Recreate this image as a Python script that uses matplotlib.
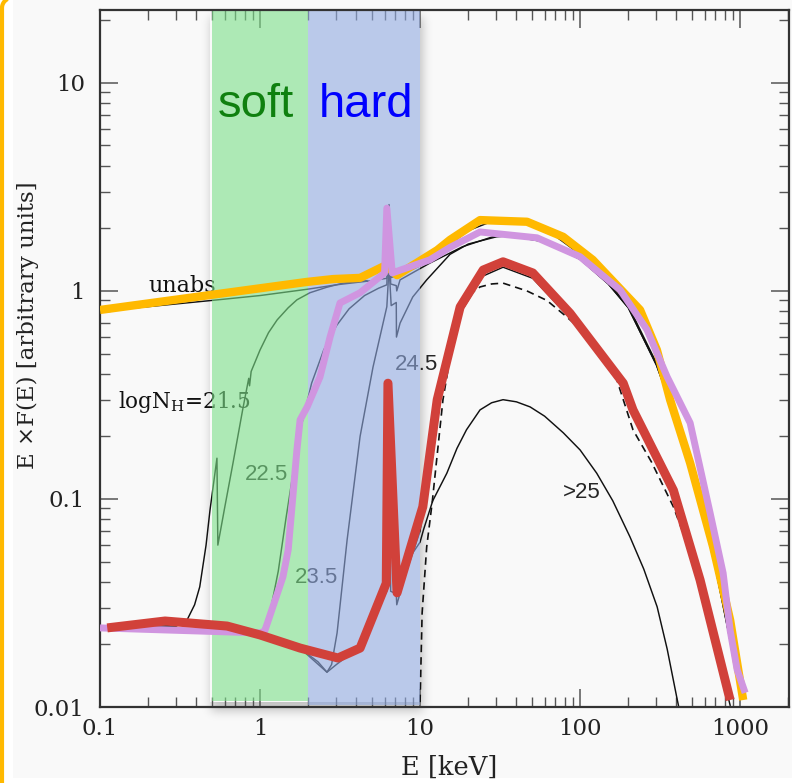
import numpy as np
import matplotlib.pyplot as plt
from matplotlib.lines import Line2D
from matplotlib.patches import Rectangle
from matplotlib.ticker import LogLocator, NullFormatter

plt.rcParams['font.family'] = ['DejaVu Serif']
plt.rcParams['mathtext.fontset'] = 'dejavuserif'

# --- spectra (E in keV, E*F(E) arbitrary units) ---
# thin black model curves
e_unabs = [0.1, 0.2, 0.5, 1, 2, 3, 5, 6.2, 6.4, 6.6, 8, 10, 15, 20, 30, 40, 60, 100, 150, 200, 300, 400, 500, 700, 900, 1000]
f_unabs = [0.80, 0.84, 0.90, 0.95, 1.02, 1.07, 1.12, 1.15, 1.35, 1.16, 1.22, 1.32, 1.65, 1.95, 2.2, 2.2, 2.0, 1.5, 1.1, 0.85, 0.45, 0.25, 0.14, 0.05, 0.02, 0.012]

e_215 = [0.1, 0.2, 0.3, 0.35, 0.39, 0.42, 0.46, 0.487, 0.538, 0.545, 0.6, 0.678, 0.78, 0.85, 0.86, 0.88, 1.0, 1.13, 1.28, 1.5, 1.7, 2.05, 2.6, 3.3, 4.66]
f_215 = [0.024, 0.0245, 0.0245, 0.0262, 0.031, 0.0378, 0.060, 0.0886, 0.157, 0.060, 0.09, 0.149, 0.27, 0.38, 0.35, 0.41, 0.52, 0.63, 0.726, 0.83, 0.906, 0.98, 1.04, 1.09, 1.12]

e_225 = [0.1, 0.25, 0.6, 1.0, 1.15, 1.3, 1.45, 1.6, 1.8, 2.1, 2.5, 3.0, 3.6, 4.5, 5.5, 6.2, 6.4, 6.55, 7.1, 7.15, 7.5, 11.5, 18.4, 28.4, 34.8, 60, 100, 150, 200, 300, 400, 500, 700, 900]
f_225 = [0.024, 0.025, 0.024, 0.022, 0.028, 0.045, 0.08, 0.13, 0.22, 0.36, 0.52, 0.68, 0.82, 0.95, 1.03, 1.07, 2.6, 1.08, 1.06, 1.0, 1.13, 1.36, 1.63, 1.82, 1.85, 1.72, 1.42, 1.08, 0.83, 0.44, 0.24, 0.135, 0.047, 0.018]

e_235 = [0.1, 0.25, 0.6, 1.0, 1.8, 2.3, 2.62, 2.8, 3.03, 3.5, 4.22, 5.08, 6.2, 6.4, 6.6, 7.1, 7.12, 7.5, 9.0, 11.0, 15.4, 20, 30, 40, 60, 100, 150, 200, 300, 400, 500, 700, 900]
f_235 = [0.024, 0.025, 0.024, 0.022, 0.019, 0.0165, 0.0147, 0.016, 0.0227, 0.0635, 0.20, 0.43, 0.84, 1.3, 0.85, 0.88, 0.60, 0.70, 0.935, 1.13, 1.50, 1.68, 1.82, 1.85, 1.72, 1.42, 1.08, 0.83, 0.44, 0.24, 0.135, 0.047, 0.018]

e_245 = [0.1, 0.25, 0.6, 1.0, 1.8, 2.62, 3.0, 3.5, 4.2, 5.0, 6.2, 6.4, 6.55, 7.1, 7.15, 8, 10, 12.8, 17.8, 24.8, 33, 50.6, 86.6, 186, 214, 383, 562, 866]
f_245 = [0.024, 0.025, 0.024, 0.022, 0.019, 0.0147, 0.016, 0.0175, 0.02, 0.026, 0.036, 0.37, 0.036, 0.035, 0.031, 0.042, 0.07, 0.27, 0.78, 1.18, 1.30, 1.15, 0.74, 0.34, 0.255, 0.104, 0.038, 0.0102]

e_dash = [9.9, 10, 10.3, 11.0, 11.9, 13.9, 17.0, 19.5, 23.7, 28, 33, 46.5, 62, 82.5, 120, 160, 214, 280, 383, 470, 560, 700, 860]
f_dash = [0.008, 0.0105, 0.0283, 0.0588, 0.0958, 0.30, 0.75, 0.935, 1.045, 1.08, 1.09, 1.0, 0.90, 0.75, 0.58, 0.43, 0.215, 0.15, 0.0916, 0.06, 0.037, 0.021, 0.0105]

e_25 = [9, 10, 10.5, 12, 14.7, 17, 19.5, 23.7, 28, 33, 40, 48.7, 60, 78.5, 100, 127, 160, 205, 250, 303, 350, 405, 440]
f_25 = [0.055, 0.062, 0.071, 0.098, 0.133, 0.175, 0.215, 0.268, 0.29, 0.30, 0.293, 0.277, 0.25, 0.208, 0.172, 0.133, 0.098, 0.0657, 0.046, 0.0303, 0.019, 0.0108, 0.008]

# thick highlighted curves
e_orange = [0.1, 1.97, 2.86, 4.22, 6.13, 7.18, 12.8, 15.4, 23.7, 46.6, 78.3, 120, 237, 302, 365, 487, 678, 866, 1045]
f_orange = [0.81, 1.105, 1.14, 1.155, 1.33, 1.19, 1.57, 1.76, 2.19, 2.15, 1.82, 1.41, 0.81, 0.52, 0.30, 0.149, 0.0588, 0.0262, 0.0108]

e_purple = [0.1, 1.0, 1.07, 1.39, 1.50, 1.70, 1.78, 1.97, 2.37, 2.74, 3.16, 4.22, 6.0, 6.2, 6.7, 11.5, 15.4, 23.7, 53.8, 100, 178, 262, 350, 487, 649, 783, 866, 958, 1075]
f_purple = [0.024, 0.0227, 0.0232, 0.0422, 0.057, 0.172, 0.24, 0.277, 0.386, 0.601, 0.875, 0.98, 1.22, 2.5, 1.22, 1.41, 1.62, 1.92, 1.80, 1.46, 1.01, 0.65, 0.386, 0.232, 0.0857, 0.044, 0.0234, 0.0151, 0.0117]

e_red = [0.111, 0.255, 0.622, 1.0, 1.78, 3.07, 4.22, 6.15, 6.3, 7.18, 10.4, 12.8, 17.8, 24.8, 33, 50.6, 86.6, 186, 214, 383, 562, 866]
f_red = [0.024, 0.0259, 0.0245, 0.0222, 0.0192, 0.0172, 0.0192, 0.0394, 0.36, 0.0354, 0.0917, 0.30, 0.837, 1.26, 1.38, 1.22, 0.78, 0.36, 0.268, 0.110, 0.0408, 0.0108]

# energy bands
soft_band = (0.5, 2)
hard_band = (2, 10)

# curve labels: (text, E, F)
curve_labels = [('22.5', 0.806, 0.123), ('23.5', 1.65, 0.0394), ('24.5', 6.98, 0.417), ('>25', 78.3, 0.101)]

W, H = 792, 783
fig = plt.figure(figsize=(W / 100, H / 100), dpi=100, facecolor='white')

# slide background
fig.add_artist(Rectangle((13 / W, 5 / H), 1, 1, transform=fig.transFigure,
                         facecolor='#f9f9f9', edgecolor='none', zorder=-3))

# orange frame on the left edge with a rounded top corner (pixel coords from the top)
R = 10.0
t = np.linspace(0, np.pi / 2, 20)
fx = np.concatenate([[2.0, 2.0], 2.0 + R - R * np.cos(t), [60.0]])
fy = np.concatenate([[H + 5, -2.0 + R], -2.0 + R - R * np.sin(t), [-2.0]])
fig.add_artist(Line2D(fx / W, 1 - fy / H, transform=fig.transFigure, color='#ffb900',
                      lw=3.0, solid_capstyle='butt', zorder=10, clip_on=False))

# soft drop shadow around the highlighted bands
yy, xx = np.mgrid[0:H, 0:W]
inside = (xx >= 210) & (xx < 420) & (yy >= 10) & (yy < 702)
shifted = ((xx >= 211) & (xx < 423) & (yy >= 17) & (yy < 711)).astype(float)
k = np.exp(-0.5 * (np.arange(-15, 16) / 5.0) ** 2)
k /= k.sum()
shadow = np.apply_along_axis(lambda r: np.convolve(r, k, 'same'), 0, shifted)
shadow = np.apply_along_axis(lambda r: np.convolve(r, k, 'same'), 1, shadow)
rgba = np.zeros((H, W, 4))
rgba[..., 3] = 0.22 * shadow * (~inside)
fig.figimage(rgba, xo=0, yo=0, origin='upper', zorder=-1)

ax = fig.add_axes([100 / W, 76 / H, 689 / W, 697 / H])
ax.set_facecolor('none')
ax.set_xscale('log')
ax.set_yscale('log')

thin = dict(color='#111111', lw=1.05, zorder=1.8)
ax.plot(e_unabs, f_unabs, **thin)
ax.plot(e_215, f_215, **thin)
ax.plot(e_225, f_225, **thin)
ax.plot(e_235, f_235, **thin)
ax.plot(e_245, f_245, **thin)
ax.plot(e_25, f_25, **thin)
ax.plot(e_dash, f_dash, color='#111111', lw=1.2, dashes=(4.5, 3), zorder=1.8)

ax.text(0.2, 0.99, 'unabs', fontsize=16, color='#111111', va='baseline', zorder=1.9)
ax.text(0.13, 0.274, r'logN$_{\rm H}$=21.5', fontsize=15.5, color='#111111', va='baseline', zorder=1.9)
for txt, e, f in curve_labels:
    ax.text(e, f, txt, fontsize=16, family='Liberation Sans', color='#262626',
            va='baseline', zorder=1.9)

# semi-transparent energy bands
ax.axvspan(*soft_band, ymin=0.009, ymax=1, facecolor=(0.483, 0.875, 0.533),
           alpha=0.6, lw=0, zorder=2.0)
ax.axvspan(*hard_band, ymin=0.003, ymax=1, facecolor=(0.567, 0.667, 0.883),
           alpha=0.6, lw=0, zorder=2.0)

thick = dict(solid_joinstyle='round', solid_capstyle='butt')
ax.plot(e_orange, f_orange, color='#ffb900', lw=6.0, zorder=3, **thick)
ax.plot(e_purple, f_purple, color='#d095e0', lw=5.0, zorder=4, **thick)
ax.plot(e_red, f_red, color='#d1413a', lw=6.5, zorder=5, **thick)

ax.text(0.546, 6.87, 'soft', fontsize=34, family='Liberation Sans', color='#0f800f',
        va='baseline', zorder=6)
ax.text(2.34, 6.87, 'hard', fontsize=34, family='Liberation Sans', color='#0000ff',
        va='baseline', zorder=6)

ax.set_xlim(0.1, 2020)
ax.set_ylim(0.01, 22.4)
ax.set_xticks([0.1, 1, 10, 100, 1000], ['0.1', '1', '10', '100', '1000'])
ax.set_yticks([0.01, 0.1, 1, 10], ['0.01', '0.1', '1', '10'])
ax.xaxis.set_minor_locator(LogLocator(base=10, subs=np.arange(2, 10)))
ax.yaxis.set_minor_locator(LogLocator(base=10, subs=np.arange(2, 10)))
ax.xaxis.set_minor_formatter(NullFormatter())
ax.yaxis.set_minor_formatter(NullFormatter())
ax.tick_params(which='both', direction='in', top=True, right=True, colors='#555555',
               labelcolor='#222222', labelsize=16.5)
ax.tick_params(which='major', length=13, width=1.1)
ax.tick_params(which='minor', length=7, width=1.0)
ax.tick_params(axis='x', which='major', pad=8)
ax.tick_params(axis='y', which='major', pad=11)
for s in ax.spines.values():
    s.set_linewidth(1.6)
    s.set_color('#333333')

ax.set_xlabel('E [keV]', fontsize=18.5, color='#222222')
ax.set_ylabel('E ×F(E) [arbitrary units]', fontsize=16.5, color='#222222')
ax.xaxis.set_label_coords(0.5065, -0.068)
ax.yaxis.set_label_coords(-0.088, 0.548)

fig.savefig('out.png', dpi=100)
